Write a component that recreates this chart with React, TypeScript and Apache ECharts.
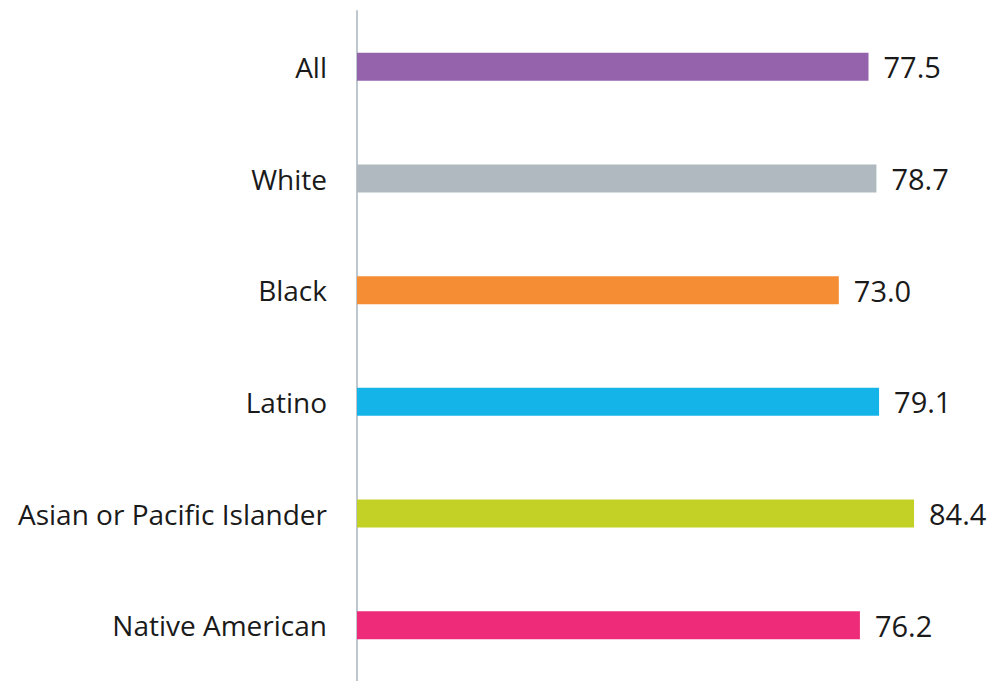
import React, { useEffect, useRef } from "react";
import * as echarts from "echarts";

const categories = ["All", "White", "Black", "Latino", "Asian or Pacific Islander", "Native American"];
const values = [77.5, 78.7, 73.0, 79.1, 84.4, 76.2];
const colors = ["#9563AB", "#AFB9BF", "#F58D35", "#15B4E8", "#C3D126", "#EE2B78"];

export default function App() {
  const ref = useRef<HTMLDivElement>(null);
  useEffect(() => {
    if (!ref.current) return;
    const chart = echarts.init(ref.current, null, { renderer: "svg" });
    chart.setOption({
      animation: false,
      grid: { left: 357, top: 11, width: 594, height: 678, containLabel: false },
      xAxis: {
        type: "value",
        min: 0,
        max: 90,
        show: false,
      },
      yAxis: {
        type: "category",
        data: categories,
        inverse: true,
        axisLine: { show: true, lineStyle: { color: "#BFC7CE", width: 2 } },
        axisTick: { show: false },
        axisLabel: {
          color: "#1a1a1a",
          fontSize: 28,
          fontFamily: "Open Sans",
          margin: 30,
          padding: [4, 0, 0, 0],
        },
        splitLine: { show: false },
      },
      series: [
        {
          type: "bar",
          data: values.map((v, i) => ({ value: v, itemStyle: { color: colors[i] } })),
          barWidth: 28,
          label: {
            show: true,
            position: "right",
            distance: 15,
            formatter: (p: any) => p.value.toFixed(1),
            color: "#1a1a1a",
            fontSize: 29,
            fontFamily: "Open Sans",
            padding: [6, 0, 0, 0],
          },
        },
      ],
    });
    return () => chart.dispose();
  }, []);
  return <div ref={ref} style={{ width: 999, height: 681, position: "fixed", left: 0, top: 0, background: "#fff" }} />;
}
